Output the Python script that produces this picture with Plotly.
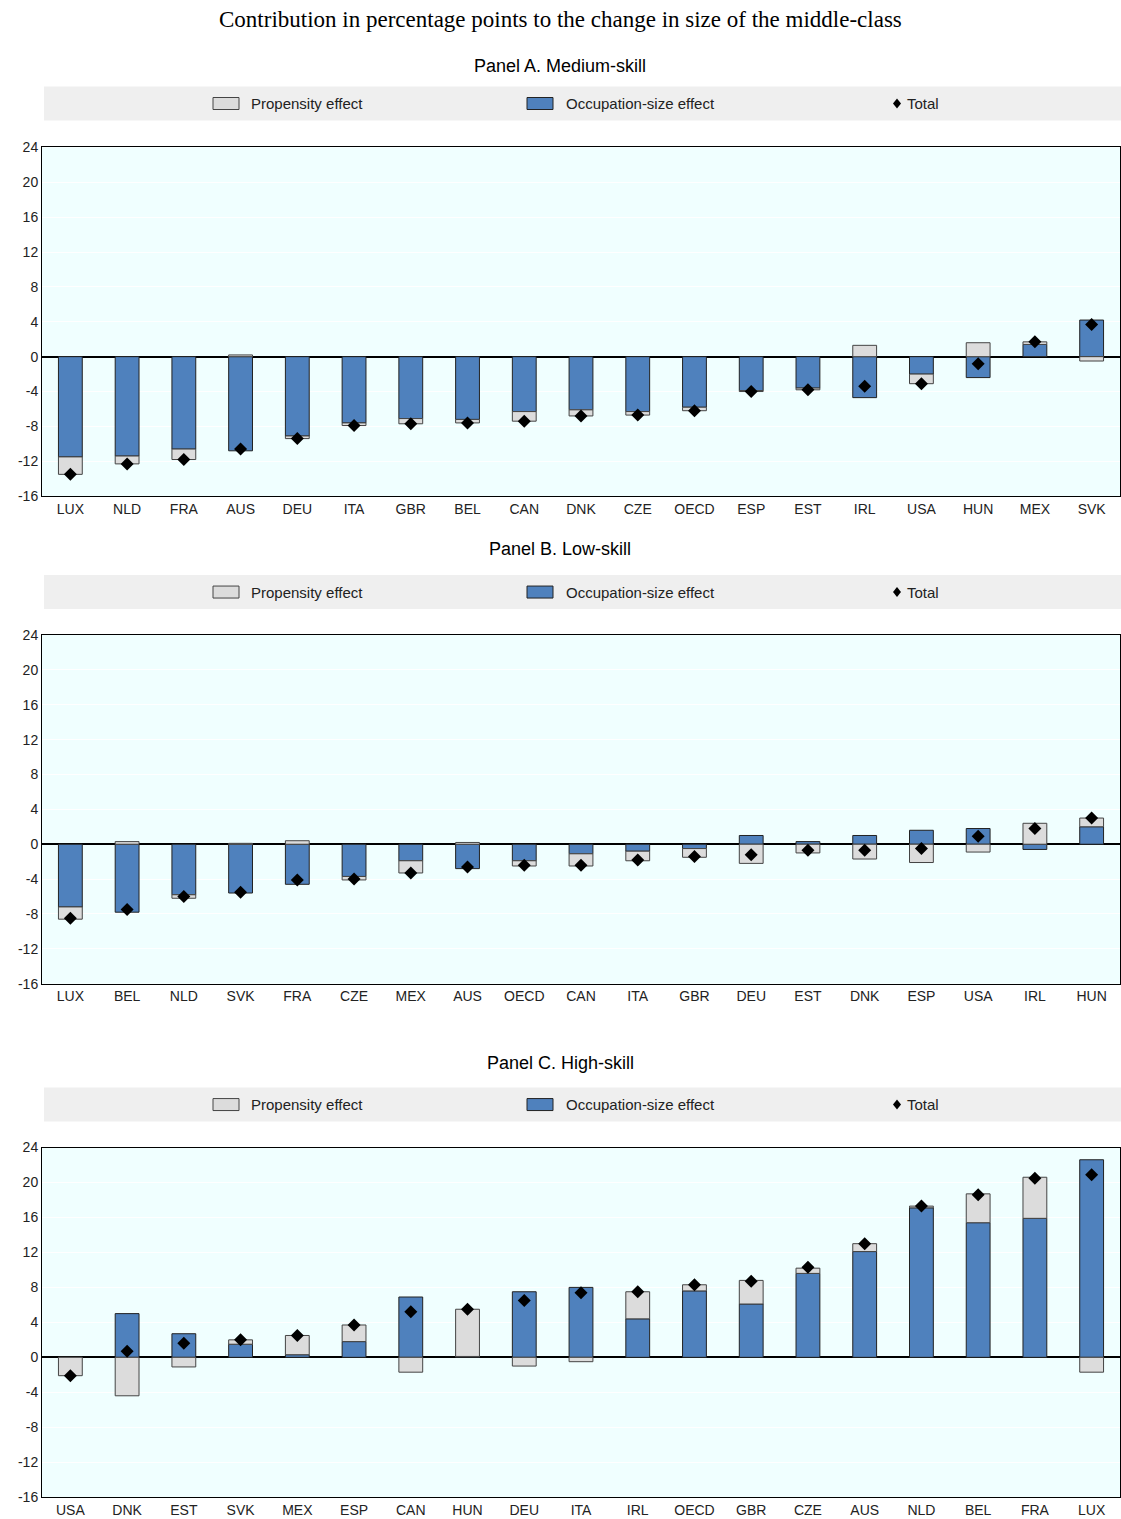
import plotly.graph_objects as go
from plotly.subplots import make_subplots

catA = ["LUX","NLD","FRA","AUS","DEU","ITA","GBR","BEL","CAN","DNK","CZE","OECD","ESP","EST","IRL","USA","HUN","MEX","SVK"]
occA = [-11.5,-11.4,-10.6,-10.8,-9.1,-7.6,-7.1,-7.2,-6.3,-6.1,-6.3,-5.8,-3.9,-3.6,-4.7,-2.0,-2.4,1.4,4.2]
propA = [-2.0,-0.9,-1.2,0.2,-0.3,-0.3,-0.6,-0.4,-1.1,-0.7,-0.4,-0.4,-0.1,-0.2,1.3,-1.1,1.6,0.3,-0.5]
totA = [-13.5,-12.3,-11.8,-10.6,-9.4,-7.9,-7.7,-7.6,-7.4,-6.8,-6.7,-6.2,-4.0,-3.8,-3.4,-3.1,-0.8,1.7,3.7]

catB = ["LUX","BEL","NLD","SVK","FRA","CZE","MEX","AUS","OECD","CAN","ITA","GBR","DEU","EST","DNK","ESP","USA","IRL","HUN"]
occB = [-7.2,-7.8,-5.8,-5.6,-4.6,-3.7,-1.9,-2.8,-1.9,-1.1,-0.8,-0.5,1.0,0.3,1.0,1.6,1.8,-0.6,2.0]
propB = [-1.4,0.3,-0.4,0.1,0.4,-0.4,-1.4,0.2,-0.6,-1.4,-1.1,-1.0,-2.2,-1.0,-1.7,-2.1,-0.9,2.4,1.0]
totB = [-8.5,-7.5,-6.0,-5.5,-4.1,-4.0,-3.3,-2.6,-2.4,-2.4,-1.8,-1.4,-1.2,-0.7,-0.7,-0.5,0.9,1.8,3.0]

catC = ["USA","DNK","EST","SVK","MEX","ESP","CAN","HUN","DEU","ITA","IRL","OECD","GBR","CZE","AUS","NLD","BEL","FRA","LUX"]
occC = [0.0,5.0,2.7,1.5,0.3,1.8,6.9,0.1,7.5,8.0,4.4,7.6,6.1,9.6,12.1,17.1,15.4,15.9,22.6]
propC = [-2.1,-4.4,-1.1,0.5,2.2,1.9,-1.7,5.4,-1.0,-0.5,3.1,0.7,2.7,0.6,0.9,0.2,3.3,4.7,-1.7]
totC = [-2.1,0.7,1.6,2.0,2.5,3.7,5.2,5.5,6.5,7.4,7.5,8.3,8.7,10.3,13.0,17.3,18.6,20.5,20.9]

yticks = list(range(-16, 25, 4))
yticktext = [str(v) for v in yticks]
W, H = 1121, 1519
L = 42
def px(x): return (x - L) / (W - L - 1)
def py(y):
    y = (y - 6.4) / 0.9904
    return 1 - y / H

fig = make_subplots(rows=3, cols=1)
BLUE = "#4f81bd"; GREY = "#dcdcdc"
panels = [(catA, occA, propA, totA), (catB, occB, propB, totB), (catC, occC, propC, totC)]
for i, (c, o, p, t) in enumerate(panels, start=1):
    fig.add_trace(go.Bar(x=c, y=o, marker=dict(color=BLUE, line=dict(color="#222", width=1)), width=0.42, showlegend=False), row=i, col=1)
    fig.add_trace(go.Bar(x=c, y=p, marker=dict(color=GREY, line=dict(color="#444", width=1)), width=0.42, showlegend=False), row=i, col=1)
    fig.add_trace(go.Scatter(x=c, y=t, mode="markers", marker=dict(symbol="diamond", color="black", size=10), showlegend=False), row=i, col=1)

doms = [(146, 495), (634, 983), (1147, 1497)]
font = "Liberation Sans Narrow, Arial Narrow, Liberation Sans, Arial"
for i, (t, b) in enumerate(doms, start=1):
    fig.update_yaxes(row=i, col=1, domain=[py(b), py(t)], range=[-16, 24], tickvals=yticks, ticktext=yticktext,
                     showgrid=True, gridcolor="white", gridwidth=1, zeroline=True, zerolinecolor="black", zerolinewidth=1.5,
                     showline=True, linecolor="black", mirror=True, ticks="", tickfont=dict(size=14, color="#222"))
    fig.update_xaxes(row=i, col=1, showline=True, linecolor="black", mirror=True, ticks="",
                     tickfont=dict(size=14, color="#222"), range=[-0.5, 18.5])

shapes = []; ann = []
ann.append(dict(x=px(560), xref="paper", y=py(18), yref="paper", xanchor="center", yanchor="middle", showarrow=False,
                text="Contribution in percentage points to the change in size of the middle-class",
                font=dict(family="Liberation Serif, Times New Roman, serif", size=23, color="black")))
titles = [("Panel A. Medium-skill", 64, 102), ("Panel B. Low-skill", 548, 591), ("Panel C. High-skill", 1062, 1104)]
for ttl, ty, ly in titles:
    ann.append(dict(x=px(560), xref="paper", y=py(ty), yref="paper", xanchor="center", yanchor="middle",
                    showarrow=False, text=ttl, font=dict(family=font, size=18, color="black")))
    shapes.append(dict(type="rect", xref="paper", yref="paper", x0=px(44), x1=px(1121), y0=py(ly + 17), y1=py(ly - 17),
                       fillcolor="#efefef", line=dict(width=0), layer="below"))
    shapes.append(dict(type="rect", xref="paper", yref="paper", x0=px(213), x1=px(239), y0=py(ly + 6), y1=py(ly - 6),
                       fillcolor=GREY, line=dict(color="#444", width=1)))
    shapes.append(dict(type="rect", xref="paper", yref="paper", x0=px(527), x1=px(553), y0=py(ly + 6), y1=py(ly - 6),
                       fillcolor=BLUE, line=dict(color="#222", width=1)))
    shapes.append(dict(type="path", xref="paper", yref="paper",
                       path=f"M {px(897)},{py(ly-5)} L {px(901)},{py(ly)} L {px(897)},{py(ly+5)} L {px(893)},{py(ly)} Z",
                       fillcolor="black", line=dict(width=0)))
    for tx, txt in [(249, "Propensity effect"), (564, "Occupation-size effect"), (905, "Total")]:
        ann.append(dict(x=px(tx), xref="paper", y=py(ly), yref="paper", xanchor="left", yanchor="middle",
                        showarrow=False, text=txt, font=dict(family=font, size=15, color="#222")))

fig.update_layout(width=W, height=H, margin=dict(l=L, r=1, t=0, b=0), barmode="relative",
                  plot_bgcolor="#f0ffff", paper_bgcolor="white", shapes=shapes, annotations=ann,
                  font=dict(family=font))
fig.write_html("out.html", config={"displayModeBar": False},
               post_script="document.body.style.margin='0px';document.body.style.padding='0px';")
